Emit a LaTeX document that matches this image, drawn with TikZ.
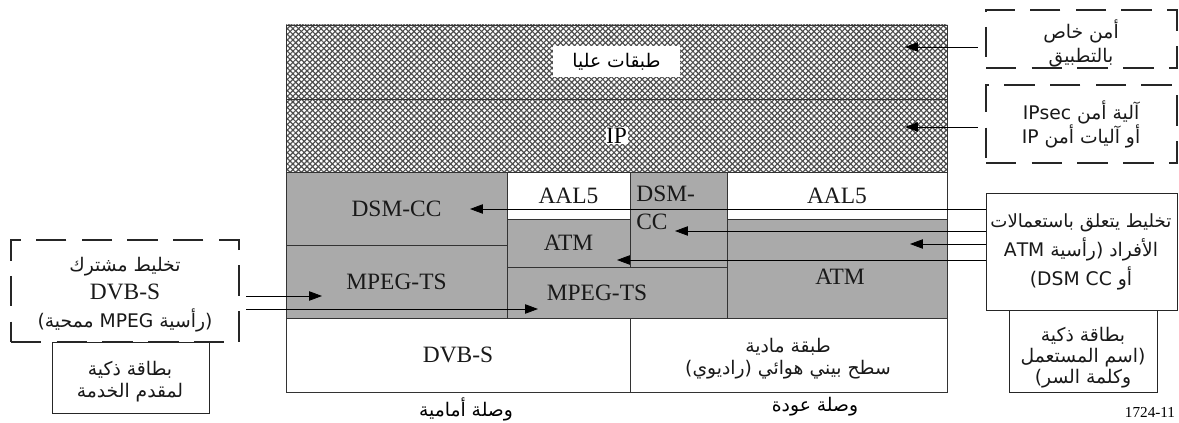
\documentclass[tikz,border=0pt]{standalone}
\usepackage{fontspec}
\setmainfont{Liberation Serif}
\newfontfamily\arabicfont[Script=Arabic]{DejaVu Sans}
\TeXXeTstate=1
\usetikzlibrary{arrows.meta,positioning,patterns.meta}
\newcommand{\arsize}{\fontsize{16}{18}\selectfont}
\newcommand{\ar}[1]{{\arabicfont\arsize\beginR #1\endR}}
\definecolor{layergray}{RGB}{170,170,170}

\begin{document}
\begin{tikzpicture}[
    x=0.3mm, y=-0.3mm,
    sized/.style 2 args={minimum width=#1*0.3mm, minimum height=#2*0.3mm},
    cell/.style={draw=black!80, line width=0.6pt, inner sep=0pt, align=center, text=black!90, font=\fontsize{20}{19}\selectfont},
    shaded/.style={cell, fill=layergray},
    hatched/.style={cell, preaction={pattern={Lines[angle=45,distance=3.4pt,line width=1pt]}, pattern color=black!70}, pattern={Lines[angle=-45,distance=3.4pt,line width=1pt]}, pattern color=black!70},
    tag/.style={fill=white, inner sep=1pt, font=\fontsize{20}{19}\selectfont},
    dashbox/.style={draw=black!85, line width=2pt, dash pattern=on 26pt off 13pt, inner sep=0pt},
    solidbox/.style={draw=black!85, line width=0.7pt, inner sep=0pt, fill=white},
    boxtext/.style={inner sep=0pt, align=center, text=black!90},
    caption/.style={font=\fontsize{20}{19}\selectfont},
    arrow/.style={line width=0.7pt, -{Triangle[length=11pt,width=8pt]}}
]
\useasboundingbox (0,0) rectangle (1179,423);

% Protocol stack
\node[hatched, sized={661}{74}] at (616.5,62) (upper) {};
\node[hatched, sized={661}{73}] at (616.5,135.5) (ip) {};
\node[tag, minimum width=38mm, minimum height=9.3mm] at (upper.center) (upperTxt) {\ar{طبقات عليا}};
\node[tag, inner sep=0.5pt] at (ip.center) (ipTxt) {IP};

\node[shaded, sized={221}{73}] at (396.5,208.5) (dsmccL) {DSM-CC};
\node[shaded, sized={221}{73}] at (396.5,281.5) (mpegL) {MPEG-TS};
\node[cell, sized={123}{47}] at (568.5,195.5) (aalM) {AAL5};
\node[shaded, sized={123}{48}] at (568.5,243) (atmM) {ATM};
\node[shaded, sized={97}{95}] at (678.5,219.5) (dsmccM) {};
\node[cell, anchor=north west, align=left, draw=none] at (636,186) (dsmccMtxt) {DSM-\\[5pt]CC};
\node[shaded, sized={220}{51}] at (617,292.5) (mpegM) {};
\node[cell, draw=none] at (597,293) (mpegMtxt) {MPEG-TS};
\node[cell, sized={220}{47}] at (837,195.5) (aalR) {AAL5};
\node[shaded, sized={220}{99}] at (837,268.5) (atmR) {};
\node[cell, draw=none] at (840,277) (atmRtxt) {ATM};
\node[cell, sized={344}{74}] at (458,355) (dvbs) {DVB-S};
\node[cell, sized={317}{74}] at (788.5,355) (phy) {};
\node[boxtext, font=\fontsize{20}{19}\selectfont] at (788,359) (phyTxt) {\ar{طبقة مادية}\\\ar{سطح بيني هوائي (راديوي)}};

\node[caption] at (466,409) (fwd) {\ar{وصلة أمامية}};
\node[caption] at (815,407) (ret) {\ar{وصلة عودة}};
\node[font=\fontsize{13}{14}\selectfont] at (1150,412) (fig) {1724-11};

% Security mechanisms (right)
\node[dashbox, sized={191}{58}] at (1081.5,39) (appsec) {};
\node[boxtext, font=\fontsize{20}{20.5}\selectfont] at (1081,43) (appsecTxt) {\ar{أمن خاص}\\\ar{بالتطبيق}};
\node[dashbox, sized={191}{78}] at (1081.5,124) (ipsec) {};
\node[boxtext, font=\fontsize{20}{20.5}\selectfont] at (1081,124) (ipsecTxt) {\ar{آلية أمن \beginL IPsec\endL}\\\ar{أو آليات أمن \beginL IP\endL}};
\node[solidbox, sized={148}{82}] at (1083,351) (card) {};
\node[boxtext, font=\fontsize{20}{18}\selectfont] at (1083,358) (cardTxt) {\ar{بطاقة ذكية}\\\ar{(اسم المستعمل}\\\ar{وكلمة السر)}};
\node[solidbox, sized={191}{117}] at (1081.5,251.5) (mux) {};
\node[boxtext, font=\fontsize{20}{25}\selectfont] at (1081,252) (muxTxt) {\renewcommand{\arsize}{\fontsize{15.5}{18}\selectfont}\ar{تخليط يتعلق باستعمالات}\\\ar{الأفراد (رأسية \beginL ATM\endL}\\\ar{أو \beginL DSM CC\endL)}};

% Conditional access (left)
\node[solidbox, sized={157}{71}] at (130.5,377.5) (spcard) {};
\node[boxtext, font=\fontsize{20}{19}\selectfont] at (130,382) (spcardTxt) {\ar{بطاقة ذكية}\\\ar{لمقدم الخدمة}};
\node[dashbox, sized={228}{102}] at (125,291) (scr) {};
\node[boxtext, font=\fontsize{20}{24}\selectfont] at (125,295) (scrTxt) {\ar{تخليط مشترك}\\DVB-S\\\ar{(رأسية \beginL MPEG\endL{} ممحية)}};

% Arrow tips
\coordinate (tipApp) at (905,47);
\coordinate (tipIp) at (905,127);
\coordinate (tipDsm) at (470,209);
\coordinate (tipCc) at (675,231);
\coordinate (tipAtmR) at (910,244);
\coordinate (tipAtmM) at (617,260);
\coordinate (tipMpegL) at (322,296);
\coordinate (tipMpegM) at (538,309);

\draw[arrow] ([xshift=-2.2mm]appsec.west |- tipApp) -- (tipApp);
\draw[arrow] ([xshift=-2.2mm]ipsec.west |- tipIp) -- (tipIp);
\draw[arrow] (mux.west |- tipDsm) -- (tipDsm);
\draw[arrow] (mux.west |- tipCc) -- (tipCc);
\draw[arrow] (mux.west |- tipAtmR) -- (tipAtmR);
\draw[arrow] (mux.west |- tipAtmM) -- (tipAtmM);
\draw[arrow] ([xshift=1.8mm]scr.east |- tipMpegL) -- (tipMpegL);
\draw[arrow] ([xshift=1.8mm]scr.east |- tipMpegM) -- (tipMpegM);

\end{tikzpicture}
\end{document}
